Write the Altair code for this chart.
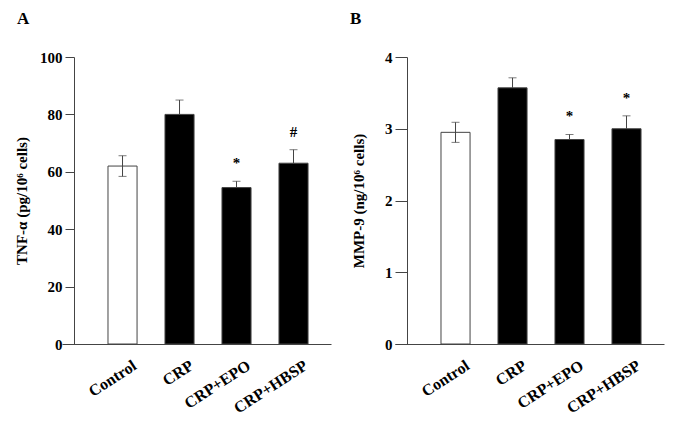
import altair as alt
import pandas as pd

groups = ["Control", "CRP", "CRP+EPO", "CRP+HBSP"]
tnf = [62.0, 80.0, 54.5, 63.0]
tnf_err = [3.6, 5.0, 2.2, 4.7]
tnf_sig = ["", "", "*", "#"]
mmp = [2.95, 3.57, 2.85, 3.0]
mmp_err = [0.14, 0.14, 0.07, 0.18]
mmp_sig = ["", "", "*", "*"]

FONT = "Liberation Serif"
LINE = "#444444"


def panel(values, errs, sig, ytitle, ymax, ystep, letter, tick_size, title_pad):
    df = pd.DataFrame({"group": groups, "v": values, "e": errs, "sig": sig})
    base = alt.Chart(df).transform_calculate(
        lo="datum.group == 'Control' ? datum.v - datum.e : datum.v",
        hi="datum.v + datum.e",
    )
    x = alt.X(
        "group:N",
        sort=groups,
        scale=alt.Scale(paddingInner=0.49, paddingOuter=0.605, align=0.667),
        axis=alt.Axis(
            title=None,
            labelAngle=-33,
            labelAlign="right",
            labelBaseline="top",
            labelFont=FONT,
            labelFontWeight="bold",
            labelFontSize=16,
            labelColor="black",
            labelPadding=13,
            labelOffset=8,
            ticks=False,
            domainColor=LINE,
            labelOverlap=False,
        ),
    )
    y = alt.Y(
        "v:Q",
        scale=alt.Scale(domain=[0, ymax], nice=False, zero=True),
        axis=alt.Axis(
            title=ytitle,
            values=[i * ystep for i in range(int(round(ymax / ystep)) + 1)],
            format="d",
            offset=-12,
            tickSize=tick_size,
            tickColor=LINE,
            domainColor=LINE,
            grid=False,
            labelFont=FONT,
            labelFontWeight="bold",
            labelFontSize=15,
            labelColor="black",
            labelPadding=3,
            titleFont=FONT,
            titleFontWeight="bold",
            titleFontSize=15,
            titleColor="black",
            titlePadding=title_pad,
        ),
    )
    bars = base.mark_bar(stroke=LINE, strokeWidth=1).encode(
        x=x,
        y=y,
        fill=alt.condition(alt.datum.group == "Control", alt.value("white"), alt.value("black")),
    )
    err = base.mark_rule(color=LINE, strokeWidth=1).encode(x=x, y="lo:Q", y2="hi:Q")
    cap_hi = base.mark_tick(color=LINE, orient="horizontal", size=8, thickness=1).encode(
        x=x, y="hi:Q"
    )
    cap_lo = base.transform_filter(alt.datum.group == "Control").mark_tick(
        color=LINE, orient="horizontal", size=8, thickness=1
    ).encode(x=x, y="lo:Q")
    txt = base.mark_text(
        font=FONT, fontWeight="bold", fontSize=15, dy=-18, baseline="middle", color="black"
    ).encode(x=x, y="hi:Q", text="sig:N")
    return alt.layer(bars, err, cap_hi, cap_lo, txt).properties(
        width=269,
        height=287,
        title=alt.TitleParams(
            letter,
            anchor="start",
            frame="group",
            dx=-45,
            offset=22,
            font=FONT,
            fontWeight="bold",
            fontSize=17,
            color="black",
        ),
    )


a = panel(tnf, tnf_err, tnf_sig, "TNF-α (pg/10⁶ cells)", 100, 20, "A", 9, 10)
b = panel(mmp, mmp_err, mmp_sig, "MMP-9 (ng/10⁶ cells)", 4, 1, "B", 12, 18)

chart = alt.hconcat(a, b, spacing=19).properties(
    padding={"left": 6, "top": 2, "right": 2, "bottom": 2}
).configure_view(stroke=None)

chart.save("out.html", embed_options={"renderer": "svg", "actions": False})
